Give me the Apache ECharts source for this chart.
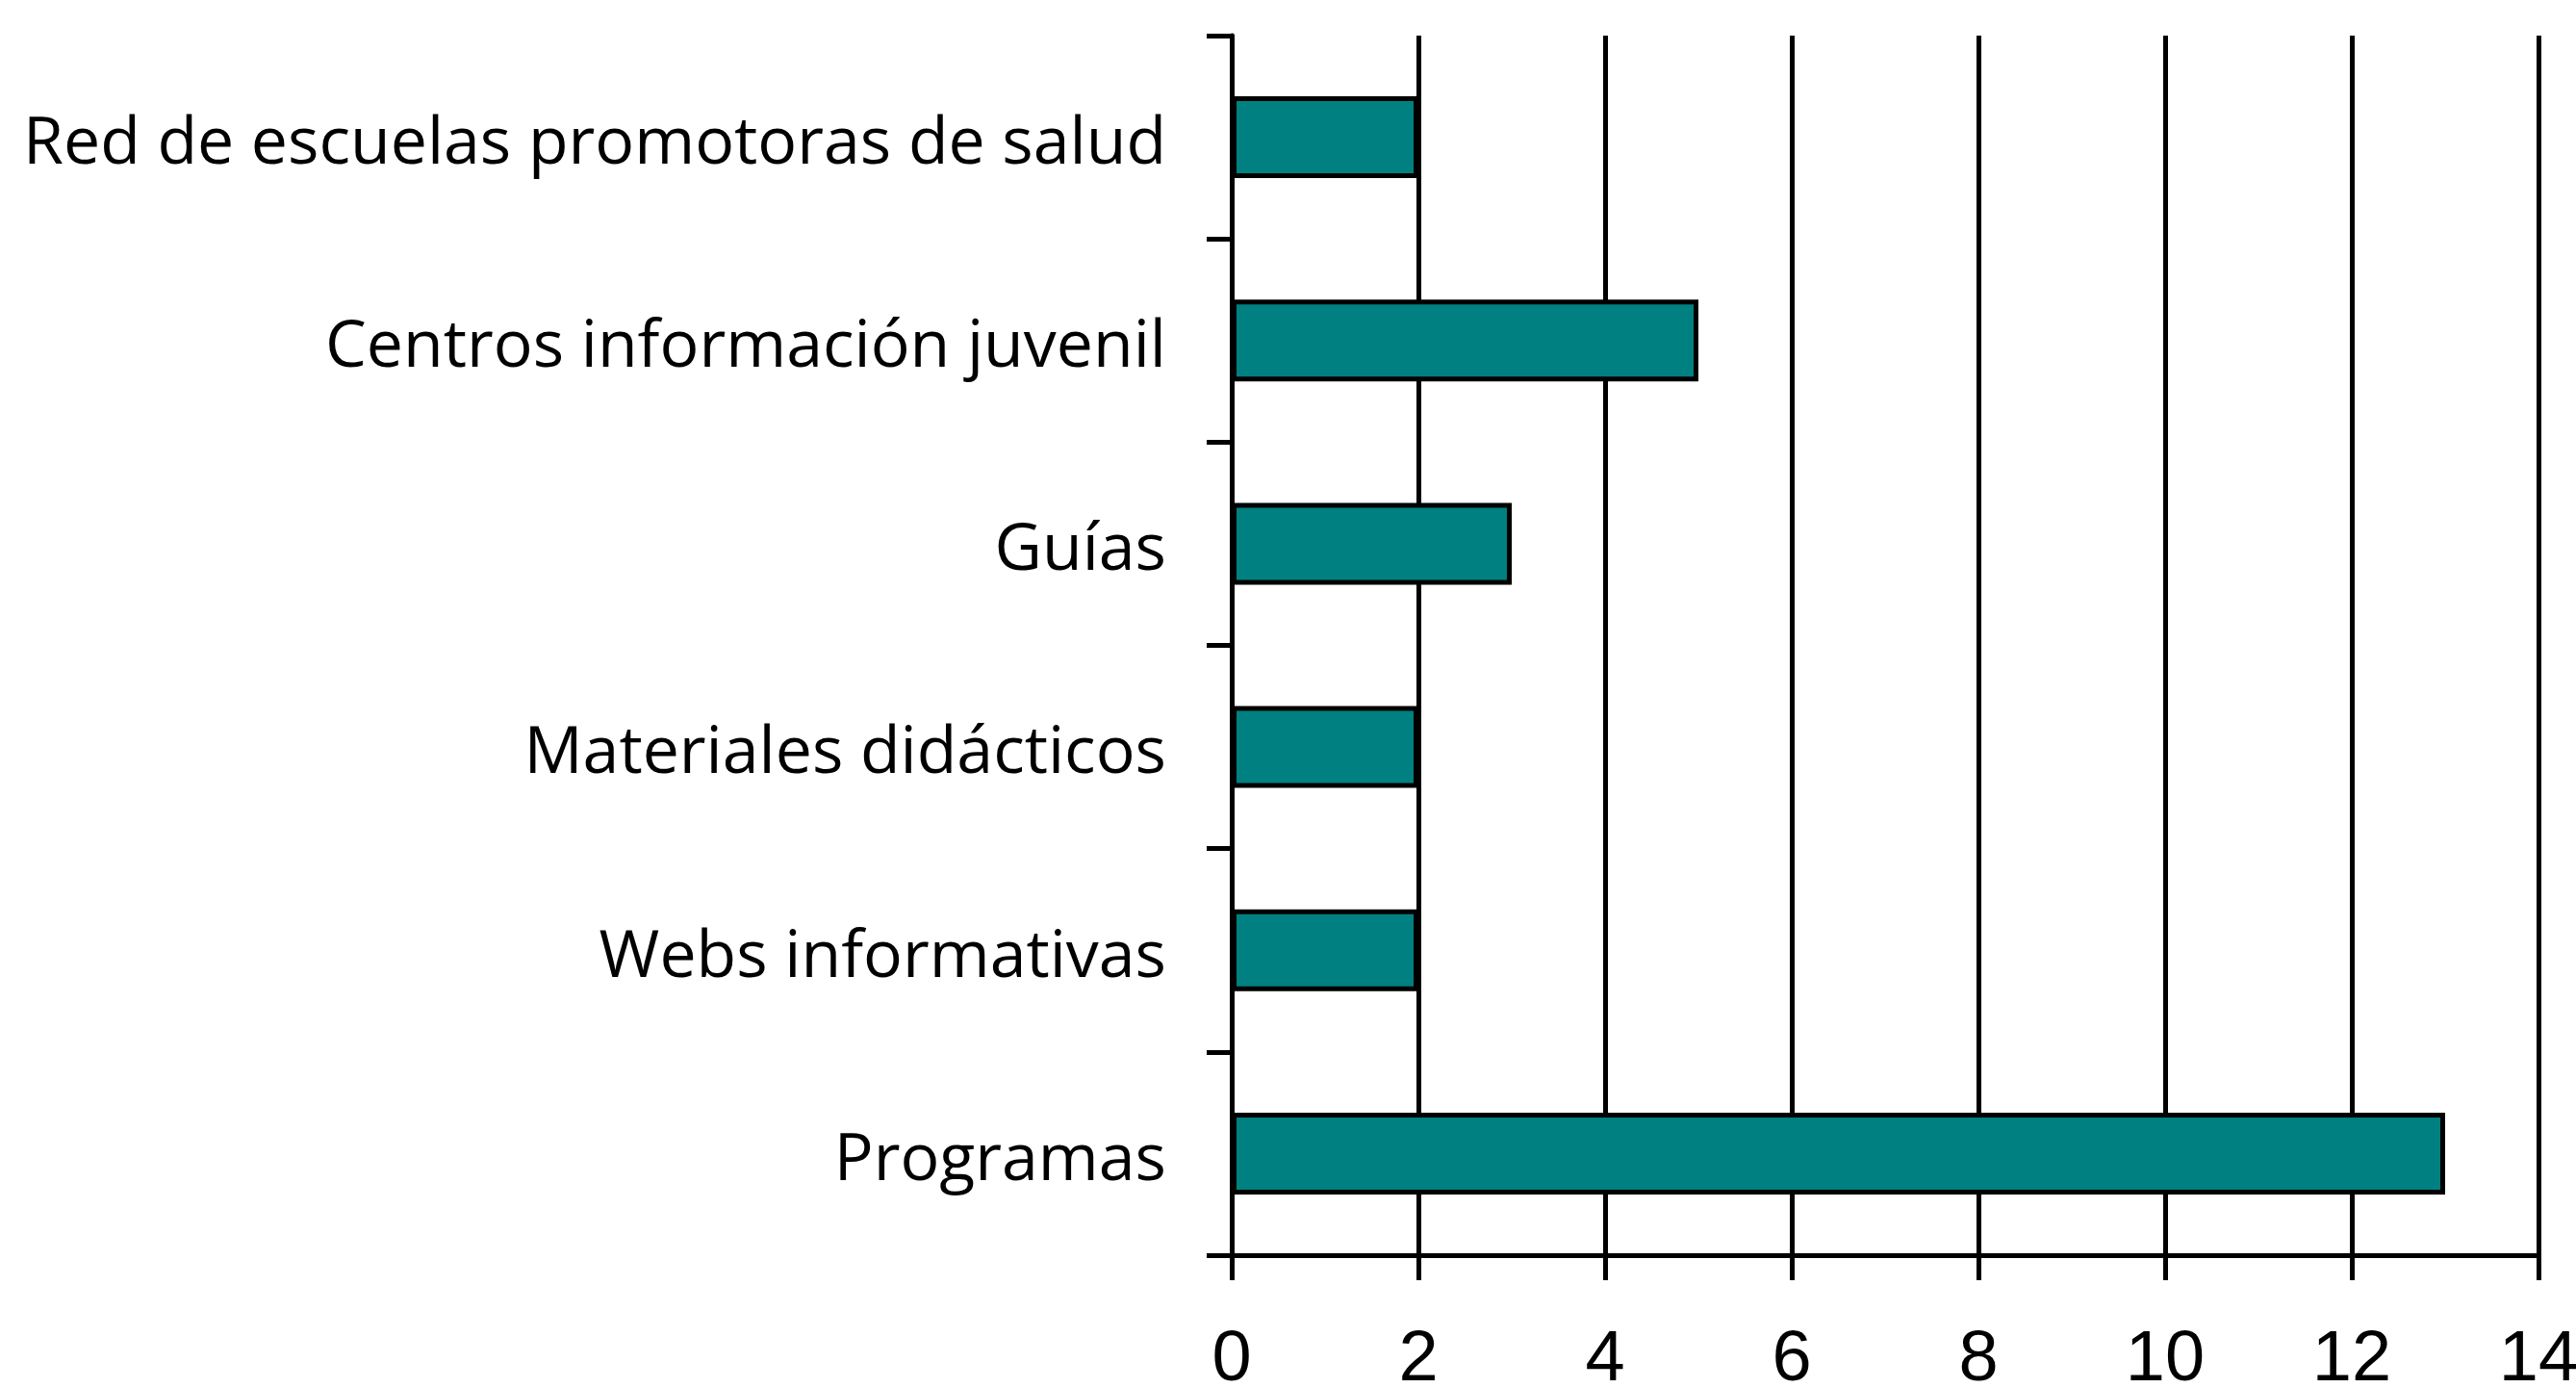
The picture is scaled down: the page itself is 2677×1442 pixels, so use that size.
<meta charset="utf-8">
<script src="https://cdn.jsdelivr.net/npm/echarts/dist/echarts.min.js"></script>
<div id="main" style="position: absolute; left: 0; top: 0;"></div>

<script type="text/javascript">
main.style.width=innerWidth+'px'
main.style.height=innerHeight+'px'
let myChart=echarts.init(main)

// bottom to top, as the category axis draws them
const categorias=['Programas','Webs informativas','Materiales didácticos','Guías','Centros información juvenil','Red de escuelas promotoras de salud']
const valores=[13,2,2,3,5,2]
const ticksX=[0,2,4,6,8,10,12,14]

myChart.setOption({
  backgroundColor: '#fff',
  animation: false,
  grid: {left: 1280, right: 39, top: 37, bottom: 138, containLabel: false, outerBoundsMode: 'none'},
  xAxis: {
    type: 'value',
    min: ticksX[0],
    max: ticksX[ticksX.length-1],
    interval: 2,
    axisLine: {show: true, lineStyle: {color: '#000', width: 5}},
    axisTick: {show: true, length: 26, lineStyle: {color: '#000', width: 5}},
    splitLine: {show: true, lineStyle: {color: '#000', width: 5}},
    axisLabel: {color: '#000', fontFamily: 'Liberation Sans', fontSize: 74, margin: 73},
  },
  yAxis: {
    type: 'category',
    data: categorias,
    axisLine: {show: true, lineStyle: {color: '#000', width: 5}},
    axisTick: {show: true, length: 26, lineStyle: {color: '#000', width: 5}},
    axisLabel: {color: '#000', fontFamily: 'Open Sans', fontSize: 68, margin: 68, verticalAlign: 'top', lineHeight: 16},
  },
  series: [{
    type: 'bar',
    data: valores,
    barWidth: 85,
    itemStyle: {color: '#008080', borderColor: '#000', borderWidth: 5},
  }],
})
</script>
